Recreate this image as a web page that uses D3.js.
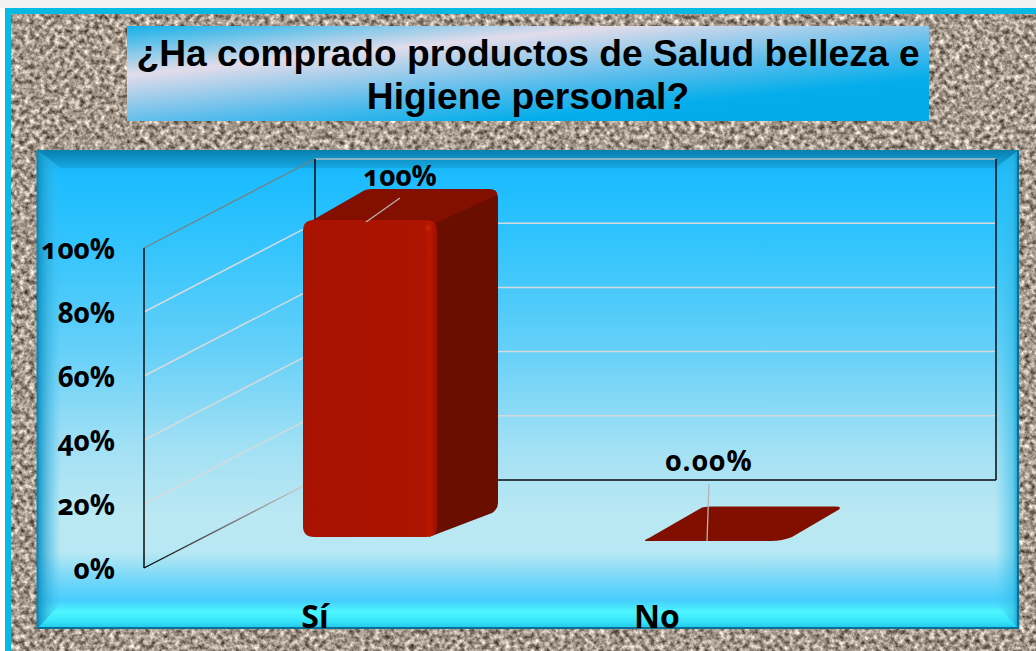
<!DOCTYPE html>
<html><head><meta charset="utf-8">
<script src="https://cdn.jsdelivr.net/npm/d3@7"></script>
<style>html,body{margin:0;padding:0;background:#fff;overflow:hidden}svg{display:block}</style>
</head><body><svg id="c" width="1036" height="651"></svg>
<script>
const categories = ["Sí", "No"];
const values = [100, 0];
const valueLabels = ["100%", "0.00%"];
const tickValues = [0, 20, 40, 60, 80, 100];
const titleLines = ["¿Ha comprado productos de Salud belleza e", "Higiene personal?"];

const svg = d3.select("#c"), defs = svg.append("defs");

function grad(id, stops, x2 = 0, y2 = 1, x1 = 0, y1 = 0, user = false) {
  const g = defs.append("linearGradient").attr("id", id)
    .attr("x1", x1).attr("y1", y1).attr("x2", x2).attr("y2", y2);
  if (user) g.attr("gradientUnits", "userSpaceOnUse");
  stops.forEach(([o, c, a]) => g.append("stop").attr("offset", o).attr("stop-color", c).attr("stop-opacity", a ?? 1));
}
grad("plotBg", [[0,"#12a6dc"],[.05,"#1bbcff"],[.2,"#33c4fc"],[.42,"#66d0f8"],[.62,"#a2e0f4"],[.76,"#bae8f3"],[.84,"#b8e8f3"],[.89,"#7cd9f8"],[.94,"#46cdfc"],[.965,"#4cf6ff"],[.985,"#36e2fa"],[1,"#1cc4ea"]]);
grad("titleBg", [[0,"#05aeea"],[.347,"#e2dcea"],[.68,"#58bcec"],[.9,"#05aeea"],[1,"#03ace9"]], 136.8, 172.5, 121.8, 23.3, true);
grad("bevT", [[0,"#0a7fae"],[1,"#15a8e2"]]);
grad("bevL", [[0,"#0f8fc2"],[.45,"#2aa8d6",.55],[1,"#40c0f0",0]], 1, 0);
grad("bevR", [[0,"#40c8f4",0],[.75,"#30b8e4",.6],[1,"#0d8fbe"]], 1, 0);
grad("barFront", [[0,"#a81200"],[.9,"#ac1400"],[.95,"#b81800"],[1,"#9a1100"]], 1, 0);
grad("axisFade", [[0,"#000"],[.5,"#777"],[1,"#d8d8d8"]], 1, 0);

const tex = defs.append("filter").attr("id", "grain").attr("x", 0).attr("y", 0).attr("width", 1).attr("height", 1)
  .attr("color-interpolation-filters", "sRGB");
tex.append("feTurbulence").attr("type", "fractalNoise").attr("baseFrequency", .2).attr("numOctaves", 3).attr("seed", 7);
tex.append("feColorMatrix").attr("type", "matrix").attr("values",
  "1.15 0 0 0 .07  1.15 0 0 0 .025  1.15 0 0 0 -.025  0 0 0 0 1");
tex.append("feGaussianBlur").attr("stdDeviation", .5);
const soft = defs.append("filter").attr("id", "soft").attr("x", "-5%").attr("y", "-50%").attr("width", "110%").attr("height", "200%");
soft.append("feGaussianBlur").attr("stdDeviation", 1.1);

// Page frame and stone texture
svg.append("rect").attr("x", 0).attr("y", 0).attr("width", 1036).attr("height", 8).attr("fill", "#f2f2f2");
svg.append("rect").attr("x", 5).attr("y", 8).attr("width", 1031).attr("height", 643).attr("fill", "#07b9e3");
svg.append("rect").attr("x", 11).attr("y", 14).attr("width", 1025).attr("height", 637).attr("fill", "#a69a8e");
svg.append("rect").attr("x", 11).attr("y", 14).attr("width", 1025).attr("height", 637).attr("filter", "url(#grain)");

// Title
svg.append("rect").attr("x", 127).attr("y", 26).attr("width", 802).attr("height", 95).attr("fill", "url(#titleBg)");
svg.append("g").selectAll("text").data(titleLines).join("text")
  .attr("x", 528).attr("y", (d, i) => 66 + i * 43).attr("text-anchor", "middle")
  .attr("font-family", "'Liberation Sans',Arial,sans-serif").attr("font-weight", 700).attr("font-size", 37.2)
  .attr("fill", "#000").text(d => d);

// Plot panel with bevel
const P = {x0: 37, x1: 1019, y0: 150, y1: 629};
const poly = pts => "M" + pts.map(p => p.join(",")).join("L") + "Z";
svg.append("rect").attr("x", P.x0).attr("y", P.y0).attr("width", P.x1 - P.x0).attr("height", P.y1 - P.y0).attr("fill", "url(#plotBg)");
svg.append("path").attr("d", poly([[P.x0,P.y0],[P.x0+24,P.y0+18],[P.x0+24,P.y1-26],[P.x0,P.y1]])).attr("fill", "url(#bevL)");
svg.append("path").attr("d", poly([[P.x1,P.y0],[P.x1-24,P.y0+18],[P.x1-24,P.y1-26],[P.x1,P.y1]])).attr("fill", "url(#bevR)");
svg.append("path").attr("d", poly([[P.x0,P.y0],[P.x1,P.y0],[P.x1-24,P.y0+18],[P.x0+24,P.y0+18]])).attr("fill", "url(#bevT)");
svg.append("line").attr("x1", P.x0 + .5).attr("x2", P.x0 + .5).attr("y1", P.y0).attr("y2", P.y1).attr("stroke", "#0b8ab5").attr("stroke-width", 2);
svg.append("line").attr("x1", P.x1 - 1).attr("x2", P.x1 - 1).attr("y1", P.y0).attr("y2", P.y1).attr("stroke", "#0a6f96").attr("stroke-width", 2);
svg.append("line").attr("x1", P.x0).attr("x2", P.x1).attr("y1", P.y0 + .5).attr("y2", P.y0 + .5).attr("stroke", "#0b83ad").attr("stroke-width", 1);
svg.append("line").attr("x1", P.x0).attr("x2", P.x1).attr("y1", P.y1 - 1).attr("y2", P.y1 - 1).attr("stroke", "#0a6f96").attr("stroke-width", 2);

// Scales (front plane and back wall of the 3-D frame)
const yFront = d3.scaleLinear().domain([0, 100]).range([568, 248]);
const yBack = d3.scaleLinear().domain([0, 100]).range([480, 159]);
const yBar = d3.scaleLinear().domain([0, 100]).range([537, 220]);
const xCat = d3.scaleBand().domain(categories).range([144, 828]);
const backX0 = 315, backX1 = 996, frontX = 144;

const wall = svg.append("g");
wall.selectAll(".gb").data(tickValues.slice(1, -1)).join("line")
  .attr("x1", backX0).attr("x2", backX1).attr("y1", yBack).attr("y2", yBack).attr("stroke", "#d6dadc").attr("stroke-width", 1.5);
wall.selectAll(".gl").data(tickValues.slice(1, -1)).join("line")
  .attr("x1", frontX).attr("x2", backX0).attr("y1", yFront).attr("y2", yBack).attr("stroke", "#d6dadc").attr("stroke-width", 1.5);
// Frame
wall.append("line").attr("x1", backX0).attr("x2", backX1).attr("y1", yBack(100)).attr("y2", yBack(100)).attr("stroke", "#b4c0c6").attr("stroke-width", 1.6);
wall.append("line").attr("x1", frontX).attr("x2", backX0).attr("y1", yFront(100)).attr("y2", yBack(100)).attr("stroke", "#77807f").attr("stroke-width", 1.3);
wall.append("path").attr("d", `M${frontX},${yFront(0)}L${backX0},${yBack(0)}`).attr("fill", "none").attr("stroke", "url(#axisFade)").attr("stroke-width", 1.4);
wall.append("line").attr("x1", frontX).attr("x2", frontX).attr("y1", yFront(0)).attr("y2", yFront(100)).attr("stroke", "#0a0a0a").attr("stroke-width", 1.5);
wall.append("line").attr("x1", backX0).attr("x2", backX0).attr("y1", yBack(100)).attr("y2", yBack(40)).attr("stroke", "#0a0a0a").attr("stroke-width", 1.5);
wall.append("line").attr("x1", backX1).attr("x2", backX1).attr("y1", yBack(100)).attr("y2", yBack(0)).attr("stroke", "#0a0a0a").attr("stroke-width", 1.5);
wall.append("line").attr("x1", backX0 + 150).attr("x2", backX1).attr("y1", yBack(0)).attr("y2", yBack(0)).attr("stroke", "#0a0a0a").attr("stroke-width", 1.5);

// Value axis
const labelFont = "'Open Sans',sans-serif";
const yAxis = d3.axisLeft(yFront).tickValues(tickValues).tickSize(0).tickFormat(d => d + "%");
const axisG = svg.append("g").attr("transform", "translate(118,1.5)").call(yAxis);
axisG.select(".domain").remove();
axisG.selectAll("text").attr("fill", "#000").attr("font-family", labelFont).attr("font-weight", 700)
  .attr("font-size", 28).style("font-feature-settings", "'onum'");

// Bars
const barW = 134, depthX = 61, barOffset = -12;
function rr(x0, y0, x1, y1, r) {
  return `M${x0+r},${y0}H${x1-r}Q${x1},${y0} ${x1},${y0+r}V${y1-r}Q${x1},${y1} ${x1-r},${y1}H${x0+r}Q${x0},${y1} ${x0},${y1-r}V${y0+r}Q${x0},${y0} ${x0+r},${y0}Z`;
}
const bars = svg.append("g");
categories.forEach((c, i) => {
  const v = values[i], x0 = xCat(c) + xCat.bandwidth() / 2 + barOffset, x1 = x0 + barW;
  const yt = yBar(v), yb = yBar(0);
  if (v > 0) {
    const dy = 31, r = 11;
    bars.append("path").attr("d",
      `M${x1-8},${yt}L${x1+depthX-10},${yt-dy}Q${x1+depthX},${yt-dy} ${x1+depthX},${yt-dy+10}V${yb-dy-3}Q${x1+depthX},${yb-dy+3} ${x1+depthX-6},${yb-dy+7}L${x1-8},${yb}Z`)
      .attr("fill", "#6a0e00");
    bars.append("path").attr("d",
      `M${x0+8},${yt+1}L${x0+depthX+1},${yt-dy+1}Q${x0+depthX+5},${yt-dy} ${x0+depthX+9},${yt-dy}H${x1+depthX-10}Q${x1+depthX},${yt-dy} ${x1+depthX-1},${yt-dy+6}L${x1-3},${yt+4}L${x1-8},${yt+1}Z`)
      .attr("fill", "#820f00");
    bars.append("path").attr("d", rr(x0, yt, x1, yb, r)).attr("fill", "url(#barFront)");
    bars.append("path").attr("d", `M${x0+6},${yt+3}H${x1-7}`).attr("stroke", "#bc1c04").attr("stroke-width", 3).attr("filter", "url(#soft)");
    bars.append("circle").attr("cx", x1 - 9).attr("cy", yt + 8).attr("r", 3).attr("fill", "#c82808").attr("opacity", .7).attr("filter", "url(#soft)");
    bars.append("path").attr("d", `M${x0+8},${yb-1}H${x1-8}`).attr("stroke", "#7e0e00").attr("stroke-width", 2).attr("filter", "url(#soft)");
  } else {
    const yB = yb + 4, yT = yB - 34.5;
    bars.append("path").attr("d",
      `M${x0+2},${yB}Q${x0-3},${yB} ${x0+4},${yB-3}L${x0+depthX-4},${yT+1}Q${x0+depthX},${yT} ${x0+depthX+6},${yT}H${x1+depthX-5}Q${x1+depthX+2},${yT} ${x1+depthX-1},${yT+3}L${x1+13},${yB-4}Q${x1+3},${yB} ${x1-8},${yB}Z`)
      .attr("fill", "#810f00");
  }
});

// Leader lines and data labels
const leaderPts = [[[366, 222], [400, 198]], [[707, 541], [709, 484]]];
svg.append("g").selectAll("line").data(leaderPts).join("line")
  .attr("x1", d => d[0][0]).attr("y1", d => d[0][1]).attr("x2", d => d[1][0]).attr("y2", d => d[1][1])
  .attr("stroke", "#b4b4b4").attr("stroke-width", 1.3);
const labelX = i => xCat(categories[i]) + xCat.bandwidth() / 2 + (i ? 52 : 85);
svg.append("g").selectAll("text").data(valueLabels).join("text")
  .attr("x", (d, i) => labelX(i)).attr("y", (d, i) => i ? 471 : 186).attr("text-anchor", "middle")
  .attr("font-family", labelFont).attr("font-weight", 700).attr("font-size", 28)
  .attr("letter-spacing", (d, i) => i ? 1.2 : 0)
  .style("font-feature-settings", "'onum'").attr("fill", "#000").text(d => d);

// Category axis
const xAxis = d3.axisBottom(xCat).tickSize(0).tickFormat(d => d);
const xG = svg.append("g").attr("transform", "translate(0,602)").call(xAxis);
xG.select(".domain").remove();
xG.selectAll("text").attr("fill", "#000").attr("font-family", labelFont).attr("font-weight", 700).attr("font-size", 32);
</script></body></html>
